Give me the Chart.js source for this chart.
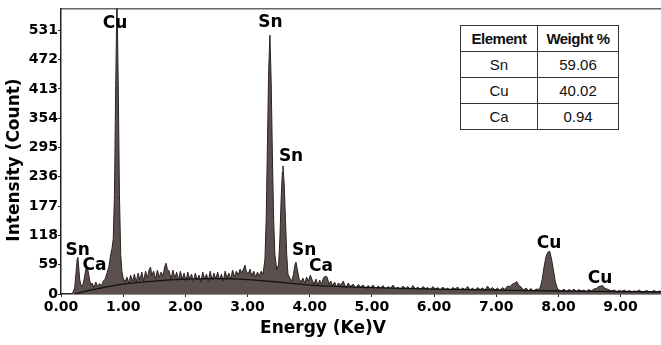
<!DOCTYPE html>
<html>
<head>
<meta charset="utf-8">
<script src="https://cdn.jsdelivr.net/npm/chart.js@4.4.1/dist/chart.umd.min.js"></script>
<style>
  body { margin: 0; background: #fff; }
  #wrap { position: relative; width: 661px; height: 345px; }
  #weights {
    position: absolute; left: 460px; top: 25px; width: 159px; height: 102px;
    border-collapse: collapse; font-family: "Liberation Sans", Arial, sans-serif;
    font-size: 15px; color: #111; background: #fff;
  }
  #weights td, #weights th { border: 1.5px solid #333; text-align: center; padding: 0; height: 25px; }
  #weights th { font-weight: bold; letter-spacing: -0.5px; }
  #weights td:first-child, #weights th:first-child { width: 76px; }
</style>
</head>
<body>
<div id="wrap">
  <canvas id="ctx_eds"></canvas>
  <table id="weights">
    <tr><th>Element</th><th>Weight %</th></tr>
  </table>
</div>
<script>
// spectrum
var energies = [0.00, 0.10, 0.16, 0.19, 0.22, 0.24, 0.26, 0.27, 0.28, 0.30, 0.32, 0.34, 0.36, 0.38, 0.40, 0.42, 0.44, 0.46, 0.48, 0.50,
  0.53, 0.56, 0.59, 0.62, 0.65, 0.68, 0.71, 0.74, 0.77, 0.80, 0.82, 0.84, 0.86, 0.88, 0.90, 0.92, 0.94, 0.96, 0.98, 1.00,
  1.03, 1.06, 1.09, 1.12, 1.15, 1.18, 1.21, 1.24, 1.27, 1.30, 1.33, 1.36, 1.39, 1.42, 1.44, 1.46, 1.49, 1.52, 1.55, 1.58,
  1.61, 1.64, 1.67, 1.69, 1.71, 1.74, 1.77, 1.80, 1.83, 1.86, 1.89, 1.92, 1.95, 1.98, 2.01, 2.04, 2.07, 2.10, 2.13, 2.16,
  2.19, 2.22, 2.25, 2.28, 2.31, 2.34, 2.37, 2.40, 2.43, 2.46, 2.49, 2.52, 2.55, 2.58, 2.61, 2.64, 2.67, 2.70, 2.73, 2.76,
  2.79, 2.82, 2.85, 2.88, 2.91, 2.94, 2.96, 2.98, 3.01, 3.04, 3.07, 3.10, 3.13, 3.16, 3.19, 3.22, 3.25, 3.28, 3.30, 3.32,
  3.34, 3.36, 3.38, 3.40, 3.42, 3.44, 3.47, 3.50, 3.52, 3.54, 3.56, 3.57, 3.59, 3.61, 3.63, 3.65, 3.68, 3.71, 3.74, 3.76,
  3.78, 3.80, 3.83, 3.86, 3.89, 3.92, 3.95, 3.98, 4.01, 4.04, 4.07, 4.10, 4.13, 4.16, 4.19, 4.22, 4.25, 4.28, 4.31, 4.34,
  4.37, 4.40, 4.43, 4.46, 4.50, 4.54, 4.58, 4.62, 4.66, 4.70, 4.74, 4.78, 4.82, 4.86, 4.90, 4.94, 4.98, 5.02, 5.06, 5.10,
  5.14, 5.18, 5.22, 5.26, 5.30, 5.34, 5.38, 5.42, 5.46, 5.50, 5.54, 5.58, 5.62, 5.66, 5.70, 5.74, 5.78, 5.82, 5.86, 5.90,
  5.94, 5.98, 6.02, 6.06, 6.10, 6.14, 6.18, 6.22, 6.26, 6.30, 6.34, 6.38, 6.42, 6.46, 6.50, 6.54, 6.58, 6.62, 6.66, 6.70,
  6.74, 6.78, 6.82, 6.86, 6.90, 6.94, 6.98, 7.02, 7.06, 7.10, 7.14, 7.18, 7.22, 7.26, 7.30, 7.33, 7.36, 7.40, 7.44, 7.48,
  7.52, 7.56, 7.60, 7.64, 7.68, 7.71, 7.74, 7.77, 7.80, 7.83, 7.86, 7.89, 7.92, 7.95, 7.98, 8.01, 8.05, 8.09, 8.13, 8.17,
  8.21, 8.25, 8.29, 8.33, 8.37, 8.41, 8.45, 8.49, 8.53, 8.57, 8.61, 8.65, 8.68, 8.71, 8.74, 8.78, 8.82, 8.86, 8.90, 8.94,
  8.98, 9.02, 9.06, 9.10, 9.14, 9.18, 9.22, 9.26, 9.30, 9.34, 9.38, 9.42, 9.46, 9.50, 9.54, 9.58, 9.62, 9.65];
var counts = [0, 0, 0, 3, 12, 40, 70, 74, 62, 30, 18, 16, 22, 35, 50, 54, 44, 28, 18, 22,
  13, 24, 15, 21, 16, 26, 30, 42, 55, 80, 92, 110, 200, 420, 600, 430, 200, 80, 45, 32,
  24, 34, 22, 38, 26, 40, 24, 42, 28, 44, 26, 46, 32, 50, 54, 38, 46, 30, 48, 34,
  44, 36, 56, 62, 50, 46, 30, 48, 32, 44, 28, 46, 30, 42, 26, 44, 30, 40, 24, 42,
  28, 38, 24, 44, 30, 40, 26, 46, 28, 42, 30, 44, 28, 40, 26, 46, 32, 42, 30, 48,
  34, 46, 38, 50, 42, 52, 58, 46, 40, 50, 36, 46, 34, 44, 36, 46, 40, 70, 150, 300,
  450, 521, 430, 280, 150, 80, 48, 60, 110, 190, 245, 258, 220, 150, 80, 40, 32, 26, 40, 58,
  64, 50, 30, 24, 32, 22, 34, 26, 38, 28, 20, 30, 18, 28, 20, 32, 36, 34, 20, 26,
  16, 24, 14, 22, 18, 26, 12, 22, 15, 20, 11, 19, 14, 18, 10, 17, 12, 18, 9, 16,
  12, 17, 9, 15, 11, 18, 10, 14, 8, 16, 11, 15, 9, 17, 10, 14, 8, 15, 11, 13,
  8, 15, 10, 13, 7, 14, 9, 12, 7, 13, 10, 14, 8, 12, 9, 15, 8, 12, 7, 13,
  9, 12, 8, 16, 9, 13, 8, 12, 7, 13, 9, 16, 15, 20, 22, 25, 18, 14, 8, 12,
  7, 11, 6, 10, 9, 14, 30, 55, 75, 84, 86, 70, 48, 25, 12, 8, 6, 10, 5, 9,
  6, 10, 5, 9, 6, 8, 5, 9, 6, 10, 11, 15, 16, 17, 12, 10, 8, 6, 8, 4,
  7, 5, 8, 4, 7, 4, 6, 5, 8, 4, 5, 7, 4, 5, 7, 4, 6, 5];

// fitted background continuum
var bgEnergies = [0.22, 0.40, 0.60, 0.80, 1.00, 1.30, 1.60, 2.00, 2.50, 3.00, 3.50, 4.00, 4.50, 5.00, 6.00, 7.00, 8.00, 9.00, 9.65];
var bgCounts   = [0, 6, 11, 16, 20, 24, 27, 30, 31, 29, 24, 18, 15, 13, 10, 8, 6, 5, 4];

// peak labels
var peakNames    = ['Cu', 'Sn', 'Sn', 'Sn', 'Ca', 'Sn', 'Ca', 'Cu', 'Cu'];
var peakEnergies = [0.87, 3.37, 3.70, 3.91, 4.18, 0.27, 0.54, 7.85, 8.67];
var peakCounts   = [545, 546, 276, 88, 56, 88, 58, 101, 32];

// weight table
var elements = ['Sn', 'Cu', 'Ca'];
var weights  = ['59.06', '40.02', '0.94'];

var xTicks = [0, 1, 2, 3, 4, 5, 6, 7, 8, 9];
var yTicks = [0, 59, 118, 177, 236, 295, 354, 413, 472, 531];

var table = document.getElementById('weights');
elements.forEach(function(el, i) {
    var row = table.insertRow();
    row.insertCell().textContent = el;
    row.insertCell().textContent = weights[i];
});

var peakLabels = {
    id: 'peakLabels',
    afterDatasetsDraw: function(chart) {
        var c = chart.ctx, xs = chart.scales.x, ys = chart.scales.y;
        c.save();
        c.fillStyle = '#000';
        c.font = 'bold 17px "DejaVu Sans"';
        c.textAlign = 'center';
        c.textBaseline = 'middle';
        peakNames.forEach(function(name, i) {
            c.fillText(name, xs.getPixelForValue(peakEnergies[i]), ys.getPixelForValue(peakCounts[i]));
        });
        // axis titles
        c.fillText('Energy (Ke)V', 323, 329);
        c.translate(15, 160);
        c.rotate(-Math.PI / 2);
        c.fillText('Intensity (Count)', 0, 0);
        c.restore();
    }
};

var tickFont = { family: 'DejaVu Sans', size: 14, weight: 'bold' };

var ctx = document.getElementById('ctx_eds');
var myChart = new Chart(ctx, {
    type: 'line',
    data: {
        datasets: [
            {
                data: bgEnergies.map(function(e, i) { return { x: e, y: bgCounts[i] }; }),
                borderColor: '#111',
                borderWidth: 1.3,
                pointRadius: 0,
                fill: false,
                tension: 0.3,
            },
            {
                data: energies.map(function(e, i) { return { x: e, y: counts[i] }; }),
                borderColor: '#2b2322',
                backgroundColor: '#5a4f4d',
                borderWidth: 1,
                pointRadius: 0,
                fill: 'origin',
                tension: 0,
            }
        ]
    },
    options: {
        responsive: true,
        maintainAspectRatio: false,
        animation: false,
        layout: { padding: { top: 5, left: 0, right: 0, bottom: 0 } },
        plugins: { legend: { display: false }, tooltip: { enabled: false } },
        scales: {
            x: {
                type: 'linear', min: 0, max: 9.65,
                afterFit: function(scale) { scale.height = 51; },
                afterBuildTicks: function(scale) { scale.ticks = xTicks.map(function(v) { return { value: v }; }); },
                border: { display: true, color: '#222', width: 1.5 },
                grid: { display: true, drawOnChartArea: false, tickLength: 3, color: '#222' },
                ticks: { color: '#000', font: tickFont, padding: 2, maxRotation: 0,
                         callback: function(v) { return Number(v).toFixed(2); } }
            },
            x2: {
                type: 'linear', position: 'top', min: 0, max: 9.65,
                afterFit: function(scale) { scale.height = 0; },
                border: { display: true, color: '#666', width: 1.5 },
                grid: { display: false },
                ticks: { display: false }
            },
            y: {
                min: 0, max: 575,
                afterFit: function(scale) { scale.width = 61; },
                afterBuildTicks: function(scale) { scale.ticks = yTicks.map(function(v) { return { value: v }; }); },
                border: { display: true, color: '#222', width: 1.5 },
                grid: { display: true, drawOnChartArea: false, tickLength: 3, color: '#222' },
                ticks: { color: '#000', font: tickFont, padding: 0 }
            }
        }
    },
    plugins: [peakLabels]
});
</script>
</body>
</html>
